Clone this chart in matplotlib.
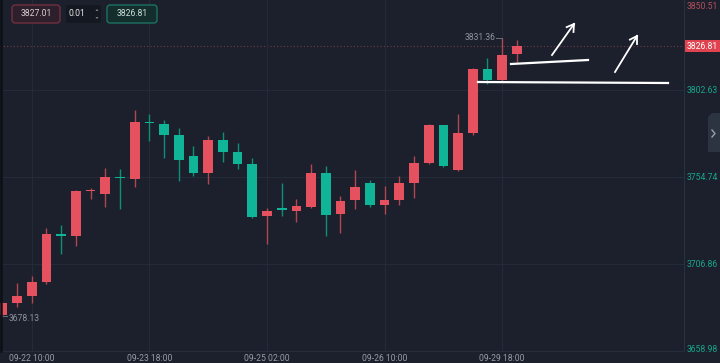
import matplotlib
matplotlib.use("Agg")
import matplotlib.pyplot as plt
import numpy as np
from matplotlib.patches import FancyBboxPatch, Polygon
from matplotlib.lines import Line2D
from matplotlib.transforms import Affine2D

plt.rcParams['font.family'] = ['Roboto', 'DejaVu Sans']

# 4h candles
opens = [3679.0, 3685.4, 3689.2, 3697.0, 3722.8, 3722.3, 3746.8, 3745.4, 3754.5, 3753.6,
         3784.8, 3783.9, 3777.9, 3766.3, 3757.0, 3775.1, 3768.5, 3761.9, 3733.3, 3737.7,
         3736.0, 3738.2, 3757.0, 3734.4, 3742.1, 3751.4, 3739.3, 3742.1, 3751.4, 3762.5,
         3783.4, 3758.6, 3779.0, 3814.2, 3808.1, 3822.4]
closes = [3685.4, 3689.2, 3697.0, 3723.4, 3722.3, 3747.0, 3747.3, 3754.7, 3754.0, 3785.0,
          3784.2, 3777.9, 3764.1, 3757.0, 3775.1, 3768.5, 3761.9, 3732.7, 3736.0, 3736.6,
          3738.8, 3757.0, 3733.8, 3741.5, 3749.2, 3739.3, 3742.1, 3751.4, 3762.5, 3783.4,
          3760.8, 3779.0, 3814.2, 3808.1, 3821.9, 3826.81]
highs = [3686.0, 3696.4, 3700.3, 3726.7, 3728.3, 3747.6, 3748.7, 3759.7, 3759.2, 3791.6,
         3789.4, 3786.1, 3781.7, 3771.8, 3777.3, 3779.5, 3773.5, 3765.2, 3737.7, 3751.4,
         3742.6, 3761.9, 3760.8, 3744.3, 3758.6, 3753.1, 3749.8, 3755.3, 3766.3, 3783.9,
         3783.6, 3789.4, 3814.7, 3820.2, 3831.36, 3830.0]
lows = [3678.13, 3683.2, 3685.4, 3695.9, 3712.4, 3716.8, 3742.6, 3738.2, 3737.1, 3749.2,
        3774.6, 3765.2, 3752.5, 3755.3, 3750.9, 3763.0, 3759.2, 3732.2, 3717.9, 3733.3,
        3730.0, 3737.7, 3722.3, 3723.9, 3737.1, 3738.2, 3734.4, 3739.3, 3743.2, 3762.0,
        3760.5, 3758.1, 3777.9, 3805.9, 3807.6, 3818.0]

date_pos = [2, 10, 18, 26, 34]
date_labels = ['09-22 10:00', '09-23 18:00', '09-25 02:00', '09-26 10:00', '09-29 18:00']
price_ticks = [3658.98, 3706.86, 3754.74, 3802.63, 3850.51]
last_price = 3826.81
bid, ask, step = '3827.01', '3826.81', '0.01'

BG = '#1b202c'
UP = '#e5515f'
UP_W = '#b3474f'
DN = '#10b597'
DN_W = '#0e8f78'
GRID = '#242b38'
FS = 6.2

fig = plt.figure(figsize=(7.2, 3.63), dpi=100, facecolor=BG)
ax = fig.add_axes([0, 12 / 363, 684 / 720, 351 / 363], facecolor=BG)

x = np.arange(len(opens))
o = np.array(opens); c = np.array(closes)
h = np.array(highs); l = np.array(lows)
up = c >= o

ax.vlines(x[up], l[up], h[up], color=UP_W, lw=1, zorder=2)
ax.vlines(x[~up], l[~up], h[~up], color=DN_W, lw=1, zorder=2)
body_lo = np.minimum(o, c)
body_h = np.maximum(np.abs(c - o), 0.9)
ax.bar(x[up], body_h[up], bottom=body_lo[up], width=0.66, color=UP, zorder=3)
ax.bar(x[~up], body_h[~up], bottom=body_lo[~up], width=0.66, color=DN, zorder=3)

ax.set_xlim(-0.16, 46.37)
ax.set_ylim(3658.98, 3852.17)

ax.set_xticks(date_pos)
ax.set_xticklabels(date_labels)
ax.set_yticks(price_ticks[1:4])
ax.set_yticklabels([])
ax.grid(True, color=GRID, lw=0.8, zorder=0)
ax.tick_params(axis='x', length=0, pad=2.5, labelsize=FS, labelcolor='#969ca7')
ax.tick_params(axis='y', length=0)
for s in ['top', 'left']:
    ax.spines[s].set_visible(False)
ax.spines['right'].set_color('#2a3140')
ax.spines['bottom'].set_color('#262d3a')

# current price dotted line
ax.axhline(last_price, color='#743846', lw=0.8, ls=(0, (1, 2)), zorder=1)

# high / low marks
ih = int(np.argmax(h)); il = int(np.argmin(l))
ax.plot([ih - 0.42, ih], [h[ih], h[ih]], color='#6b707a', lw=0.7, zorder=2)
ax.text(ih - 0.45, h[ih], f'{h[ih]:.2f}', ha='right', va='center', fontsize=FS, color='#8e949f')
ax.plot([il, il + 0.35], [l[il], l[il]], color='#6b707a', lw=0.7, zorder=2)
ax.text(il + 0.4, l[il] - 1.4, f'{l[il]:.2f}', ha='left', va='center', fontsize=FS, color='#8e949f')

# right price axis labels
yax = ax.get_yaxis_transform()
for p in price_ticks:
    col = '#b5505c' if p > last_price else '#1aa58b'
    yy = p
    if p == price_ticks[-1]:
        yy = p - 2.0
    if p == price_ticks[0]:
        yy = p + 0.8
    ax.text(1.004, yy, f'{p:.2f}', transform=yax, ha='left', va='center',
            fontsize=FS, color=col, clip_on=False)
ax.text(1.004, last_price, f'{last_price:.2f}', transform=yax,
        ha='left', va='center', fontsize=FS, color='white', clip_on=False, zorder=6,
        bbox=dict(boxstyle='square,pad=0.22', fc='#e0434f', ec='none'))

# pixel coords, origin top-left
T = Affine2D().scale(1, -1).translate(0, 363).scale(1 / 720, 1 / 363) + fig.transFigure

# left border
fig.add_artist(Line2D([1.2, 1.2], [0, 351], transform=T, color='#0c0f15', lw=1.8))

# toolbar
fig.add_artist(FancyBboxPatch((12, 5), 48, 18, boxstyle='round,pad=0,rounding_size=3',
                              transform=T, fc='#2d1f2b', ec='#7a3140', lw=0.9))
fig.add_artist(FancyBboxPatch((66, 5), 35, 18, boxstyle='round,pad=0,rounding_size=2',
                              transform=T, fc='#141820', ec='none'))
fig.add_artist(FancyBboxPatch((107, 5), 50, 18, boxstyle='round,pad=0,rounding_size=3',
                              transform=T, fc='#142d2d', ec='#1d7a69', lw=0.9))
fig.text(36 / 720, 1 - 14 / 363, bid, ha='center', va='center', fontsize=FS, color='#d8d0d4')
fig.text(77 / 720, 1 - 14 / 363, step, ha='center', va='center', fontsize=FS, color='#e6e6e6')
fig.text(132 / 720, 1 - 14 / 363, ask, ha='center', va='center', fontsize=FS, color='#d0e0dc')
fig.add_artist(Polygon([[95.5, 11], [98.5, 11], [97, 9]], transform=T, fc='#7d838e', ec='none'))
fig.add_artist(Polygon([[95.5, 17], [98.5, 17], [97, 19]], transform=T, fc='#7d838e', ec='none'))

# side tab
fig.add_artist(Polygon([[712, 113], [720, 113], [720, 152], [708, 152], [708, 117]],
                       transform=T, fc='#2c3341', ec='none'))
fig.add_artist(Line2D([712, 715, 712], [130, 133.5, 137], transform=T, color='#9aa0aa', lw=1))

# hand-drawn annotations
fig.add_artist(Line2D([478, 668], [82, 83], transform=T, color='white', lw=1.6))
fig.add_artist(Line2D([511, 588], [64, 60], transform=T, color='white', lw=1.6))
for (x0, y0, x1, y1) in [(552, 55, 574, 24), (615, 72, 637, 36)]:
    fig.add_artist(Line2D([x0, x1], [y0, y1], transform=T, color='white', lw=1.3))
    ang = np.arctan2(y1 - y0, x1 - x0)
    for d in (0.55, -0.55):
        a = ang + np.pi + d
        fig.add_artist(Line2D([x1, x1 + 8 * np.cos(a)], [y1, y1 + 8 * np.sin(a)],
                              transform=T, color='white', lw=1.3))

fig.savefig('out.png', dpi=100, facecolor=BG)
